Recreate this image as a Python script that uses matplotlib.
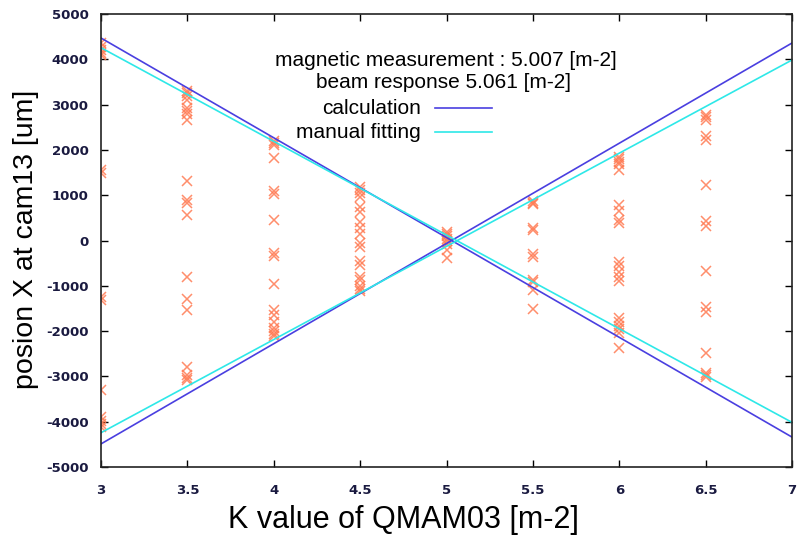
import numpy as np
import matplotlib
matplotlib.use('Agg')
import matplotlib.pyplot as plt

plt.rcParams['axes.unicode_minus'] = False

# measured beam position at cam13 for each QMAM03 setting
K_values = [3.0, 3.5, 4.0, 4.5, 5.0, 5.5, 6.0, 6.5]
pos_3p0 = [4350, 4280, 4200, 4150, 4100, 1550, 1480, -1250, -1320, -3300, -3900, -3980, -4050, -4120]
pos_3p5 = [3300, 3250, 3180, 3100, 2920, 2850, 2800, 2660, 1320, 900, 820, 560,
           -800, -1300, -1530, -2790, -2980, -3030, -3080]
pos_4p0 = [2200, 2150, 2100, 1820, 1100, 1030, 450, -280, -350, -960, -1530,
           -1650, -1790, -1930, -2000, -2060, -2100]
pos_4p5 = [1180, 1120, 1050, 950, 750, 640, 400, 280, 150, -60, -150, -450,
           -530, -800, -880, -1000, -1060, -1120]
pos_5p0 = [180, 150, 100, 30, -20, -80, -200, -380]
pos_5p5 = [870, 830, 800, 280, 230, -300, -360, -870, -920, -1090, -1510]
pos_6p0 = [1850, 1800, 1740, 1700, 1550, 780, 650, 450, 380, -480, -560, -700,
           -800, -900, -1700, -1800, -1880, -1960, -2050, -2370]
pos_6p5 = [2760, 2720, 2670, 2300, 2220, 1230, 440, 330, -680, -1460, -1580,
           -2490, -2920, -2960, -3010]
positions = [pos_3p0, pos_3p5, pos_4p0, pos_4p5, pos_5p0, pos_5p5, pos_6p0, pos_6p5]

# straight lines given by their values at K=3 and K=7
K_ends = [3.0, 7.0]
calc_up = [-4490, 4360]
calc_down = [4470, -4340]
fit_up = [-4243, 3985]
fit_down = [4256, -4015]

c_calc = '#4a3fe0'
c_fit = '#2ee8e8'
c_pts = '#ff7a52'

fig = plt.figure(figsize=(7.98, 5.35), dpi=100)
ax = fig.add_axes([0.1266, 0.1271, 0.8659, 0.8467])

for k, ys in zip(K_values, positions):
    ax.plot([k]*len(ys), ys, linestyle='none', marker='x', markersize=6.5,
            markeredgewidth=1.1, color=c_pts, alpha=0.85)

ax.plot(K_ends, calc_up, color=c_calc, lw=1.2)
ax.plot(K_ends, calc_down, color=c_calc, lw=1.2)
ax.plot(K_ends, fit_up, color=c_fit, lw=1.2)
ax.plot(K_ends, fit_down, color=c_fit, lw=1.2)

ax.set_xlim(3, 7)
ax.set_ylim(-5000, 5000)
ax.set_xticks(np.arange(3, 7.01, 0.5))
ax.set_xticklabels(['3', '3.5', '4', '4.5', '5', '5.5', '6', '6.5', '7'])
ax.set_yticks(np.arange(-5000, 5001, 1000))
ax.tick_params(direction='in', top=True, right=True, length=5, width=1,
               labelsize=9.5, labelcolor='#1a1a40')
ax.tick_params(axis='x', pad=12)
ax.tick_params(axis='y', pad=9)
for lab in ax.get_xticklabels() + ax.get_yticklabels():
    lab.set_fontweight('bold')
for sp in ax.spines.values():
    sp.set_linewidth(1.2)
    sp.set_color('#222222')

W, H = 798.0, 535.0
ax.set_xlabel('K value of QMAM03 [m-2]', fontsize=22, family='Liberation Sans')
ax.set_ylabel('posion X at cam13 [um]', fontsize=20.5, family='Liberation Sans')
# labels sit at canvas positions rather than axes centre
ax.xaxis.set_label_coords(403/W, 1-520/H, transform=fig.transFigure)
ax.xaxis.label.set_va('center')
ax.yaxis.set_label_coords(26/W, 1-239/H, transform=fig.transFigure)
ax.yaxis.label.set_va('center')

# key block
kw = dict(fontsize=15, family='Liberation Sans', va='center')
fig.text(446/W, 1-60/H, 'magnetic measurement : 5.007 [m-2]', ha='center', **kw)
fig.text(444/W, 1-82/H, 'beam response 5.061 [m-2]', ha='center', **kw)
fig.text(421/W, 1-108/H, 'calculation', ha='right', **kw)
fig.text(421/W, 1-132/H, 'manual fitting', ha='right', **kw)
fig.add_artist(plt.Line2D([435/W, 492/W], [1-108/H, 1-108/H], color=c_calc, lw=1.2))
fig.add_artist(plt.Line2D([435/W, 492/W], [1-132/H, 1-132/H], color=c_fit, lw=1.2))

fig.savefig('out.png', dpi=100)
